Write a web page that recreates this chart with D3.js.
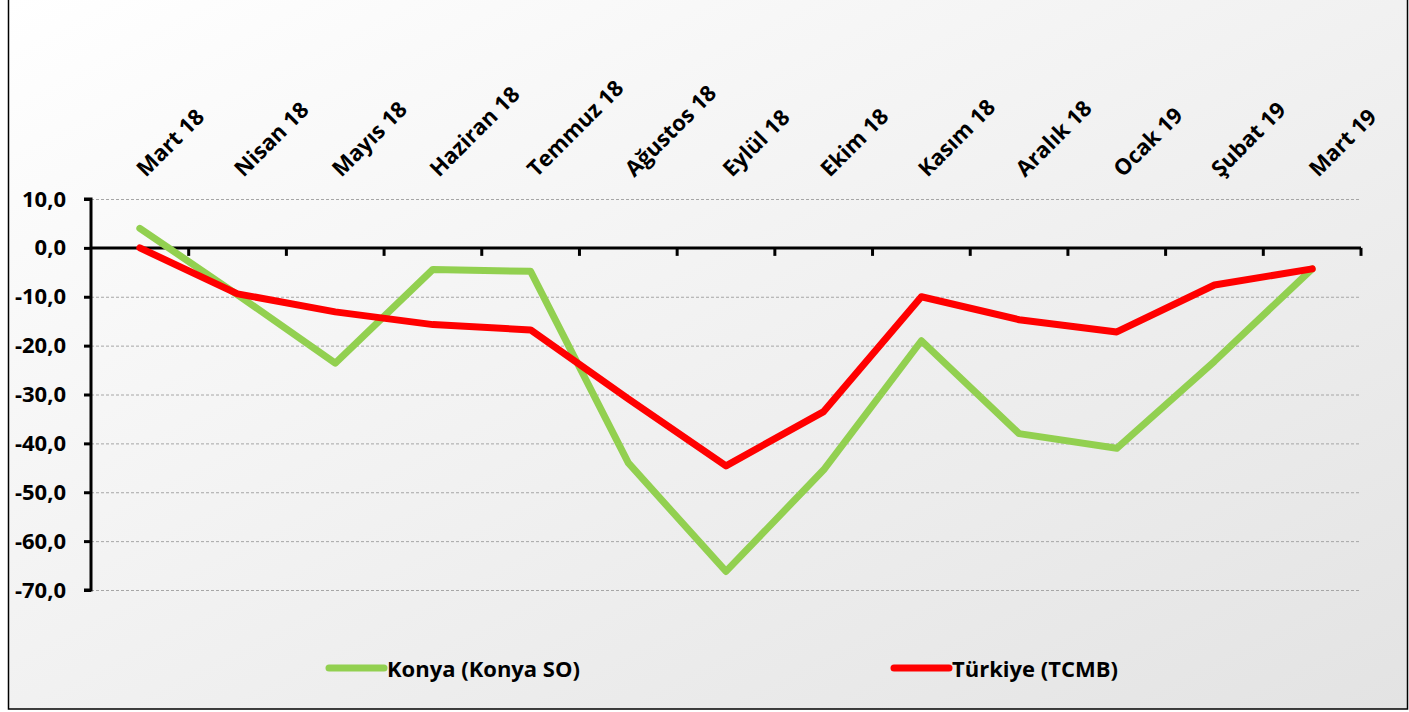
<!DOCTYPE html>
<meta charset="utf-8">
<style>
body { margin: 0; }
text { font-family: "Open Sans", sans-serif; font-weight: bold; fill: #000; }
</style>
<body>
<script src="https://cdnjs.cloudflare.com/ajax/libs/d3/7.8.5/d3.min.js"></script>
<script>

var months = ["Mart 18", "Nisan 18", "Mayıs 18", "Haziran 18", "Temmuz 18", "Ağustos 18",
  "Eylül 18", "Ekim 18", "Kasım 18", "Aralık 18", "Ocak 19", "Şubat 19", "Mart 19"];
var konya = [4.0, -9.6, -23.6, -4.4, -4.8, -44.0, -66.2, -45.4, -19.0, -38.0, -41.0, -23.2, -4.3];
var turkiye = [0.0, -9.4, -13.1, -15.7, -16.8, -30.9, -44.6, -33.5, -10.0, -14.7, -17.2, -7.6, -4.3];
var yTicks = [10, 0, -10, -20, -30, -40, -50, -60, -70];
var seriesNames = ["Konya (Konya SO)", "Türkiye (TCMB)"];
var colors = ["#92d050", "#ff0000"];

var w = 1409, h = 712;
var fontSize = "22px";

var svg = d3.select("body").append("svg")
	.attr("width", w)
	.attr("height", h);

var grad = svg.append("defs").append("linearGradient")
	.attr("id", "bg")
	.attr("x1", "0%").attr("y1", "0%")
	.attr("x2", "100%").attr("y2", "100%");
grad.append("stop").attr("offset", "0%").attr("stop-color", "#ffffff");
grad.append("stop").attr("offset", "100%").attr("stop-color", "#e3e3e3");

svg.append("rect")
	.attr("x", 8.5).attr("y", -1)
	.attr("width", w - 10).attr("height", h - 2)
	.attr("fill", "url(#bg)")
	.attr("stroke", "#000")
	.attr("stroke-width", 1.5);

var x = d3.scaleBand().domain(months).range([91, 1361]);
var y = d3.scaleLinear().domain([-70, 10]).range([590, 199]);

// grid
svg.append("g").selectAll("line")
	.data(yTicks.filter(function(d) { return d !== 0; }))
	.enter().append("line")
	.attr("x1", 91).attr("x2", 1361)
	.attr("y1", function(d) { return y(d) + 0.5; })
	.attr("y2", function(d) { return y(d) + 0.5; })
	.attr("stroke", "#a6a6a6")
	.attr("stroke-width", 1)
	.attr("stroke-dasharray", "3,2");

// y axis
var yAxis = d3.axisLeft(y)
	.tickValues(yTicks)
	.tickSize(7)
	.tickPadding(18)
	.tickFormat(function(d) { return d3.format(".1f")(d).replace(".", ",").replace("−", "-"); });
var gy = svg.append("g").attr("transform", "translate(91,0)").call(yAxis);
gy.select(".domain").attr("stroke", "#000").attr("stroke-width", 3).attr("d", "M-7," + y(10) + "H0V" + y(-70) + "H-7");
gy.selectAll(".tick line").attr("stroke", "#000").attr("stroke-width", 3);
gy.selectAll(".tick text").style("font-size", fontSize).style("font-family", "'Open Sans', sans-serif").style("font-weight", "bold").attr("fill", "#000");

// x axis at zero
var zeroY = y(0);
svg.append("line")
	.attr("x1", 91).attr("x2", 1361)
	.attr("y1", zeroY).attr("y2", zeroY)
	.attr("stroke", "#000").attr("stroke-width", 3);
var bounds = months.map(function(m) { return x(m); }).concat([x.range()[1]]);
svg.append("g").selectAll("line")
	.data(bounds.slice(1))
	.enter().append("line")
	.attr("x1", function(d) { return d; })
	.attr("x2", function(d) { return d; })
	.attr("y1", zeroY).attr("y2", zeroY + 8)
	.attr("stroke", "#000").attr("stroke-width", 3);

svg.append("g").selectAll("text")
	.data(months)
	.enter().append("text")
	.attr("transform", function(d) {
		return "translate(" + (x(d) + x.bandwidth() / 2 + 6) + ",178) rotate(-45)";
	})
	.style("font-size", fontSize)
	.text(function(d) { return d; });

// lines
var line = d3.line()
	.x(function(d, i) { return x(months[i]) + x.bandwidth() / 2; })
	.y(function(d) { return y(d); });

[konya, turkiye].forEach(function(s, i) {
	svg.append("path")
		.datum(s)
		.attr("d", line)
		.attr("fill", "none")
		.attr("stroke", colors[i])
		.attr("stroke-width", 7)
		.attr("stroke-linejoin", "round")
		.attr("stroke-linecap", "round");
});

// legend
var legendX = [329, 894];
seriesNames.forEach(function(name, i) {
	svg.append("line")
		.attr("x1", legendX[i]).attr("x2", legendX[i] + 55)
		.attr("y1", 668).attr("y2", 668)
		.attr("stroke", colors[i])
		.attr("stroke-width", 7)
		.attr("stroke-linecap", "round");
	svg.append("text")
		.attr("x", legendX[i] + 58)
		.attr("y", 677)
		.style("font-size", fontSize)
		.text(name);
});

</script>
</body>
